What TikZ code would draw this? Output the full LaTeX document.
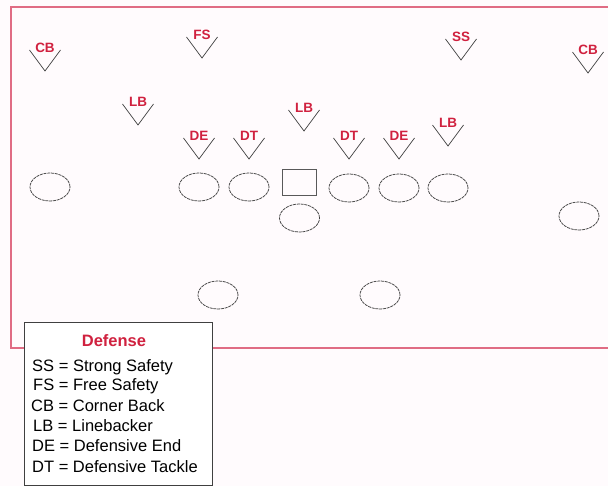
\documentclass[tikz,border=0pt]{standalone}
\usepackage{fontspec}
\setmainfont{Liberation Sans}
\definecolor{lblred}{HTML}{D0213F}
\definecolor{fieldred}{HTML}{E06C84}
\definecolor{pagebg}{HTML}{FFFBFD}
\tikzset{
  lbl/.style={text=lblred, font=\fontsize{13.5}{15}\selectfont\bfseries, inner sep=0pt},
  vmark/.style={draw=black!75, line width=0.7pt},
  player/.style={ellipse, draw=black!75, line width=0.75pt, dash pattern=on 3pt off 0.8pt, minimum width=40pt, minimum height=28pt, inner sep=0pt},
  center/.style={rectangle, draw=black!65, line width=0.8pt, minimum width=34pt, minimum height=26pt, inner sep=0pt},
  legtxt/.style={font=\fontsize{16.5}{20}\selectfont, inner sep=0pt, anchor=base west},
  legtitle/.style={font=\fontsize{16.5}{20}\selectfont\bfseries, text=lblred, inner sep=0pt, anchor=base},
  defv/.pic={\draw[vmark] (-15.5,0) -- (0,21) -- (15.5,0);}
}
\usetikzlibrary{shapes.geometric}
\begin{document}
\begin{tikzpicture}[x=1pt,y=-1pt]
\useasboundingbox[fill=pagebg] (0,0) rectangle (608,486);
% field
\draw[fieldred, line width=1.3pt] (620,7) -- (11,7) -- (11,348) -- (620,348);
% defenders: V marks and labels
\foreach \nm/\x/\y/\t in {cbl/45/50/CB, fs/202/37/FS, ss/461/39/SS, cbr/588/52/CB,
  lbl/138/104/LB, lbc/304/110/LB, lbr/448/125/LB,
  del/199/138/DE, dtl/249/138/DT, dtr/349/138/DT, der/399/138/DE}{
  \pic at (\x,\y) {defv};
  \node[lbl] (\nm) at (\x,\y-2.5) {\t};
}
% offense
\node[player] (o1) at (50,187) {};
\node[player] (o2) at (199,187) {};
\node[player] (o3) at (249,187) {};
\node[center] (c)  at (299,182) {};
\node[player] (o4) at (349,188) {};
\node[player] (o5) at (399,188) {};
\node[player] (o6) at (448,188) {};
\node[player] (qb) at (299.5,218) {};
\node[player] (o7) at (579,216) {};
\node[player] (rb1) at (218,295) {};
\node[player] (rb2) at (380,295) {};
% legend
\draw[fill=white, draw=black!75, line width=0.9pt] (24,322) rectangle (212,485);
\node[legtitle] (lt) at (114,347) {Defense};
\node[legtxt] (l1) at (32,371) {SS = Strong Safety};
\node[legtxt] (l2) at (33,391) {FS = Free Safety};
\node[legtxt] (l3) at (31,411) {CB = Corner Back};
\node[legtxt] (l4) at (33,431) {LB = Linebacker};
\node[legtxt] (l5) at (32,451) {DE = Defensive End};
\node[legtxt] (l6) at (32,472) {DT = Defensive Tackle};
\end{tikzpicture}
\end{document}
